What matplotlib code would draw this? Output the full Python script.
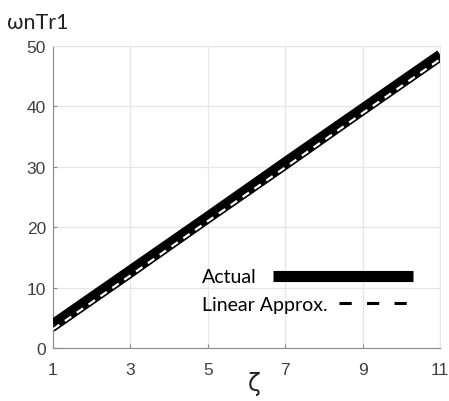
"""Normalized rise time vs damping ratio: actual curve and linear approximation."""

import matplotlib
matplotlib.use("Agg")
import matplotlib.pyplot as plt
from matplotlib.lines import Line2D

zeta = [1, 3, 5, 7, 9, 11]
actual = [4.0, 12.9, 21.8, 30.8, 39.7, 48.6]
linear_approx = [3.1, 12.0, 21.0, 29.9, 38.9, 47.8]

x_ticks = [1, 3, 5, 7, 9, 11]
y_ticks = [0, 10, 20, 30, 40, 50]

fig = plt.figure(figsize=(4.49, 4.02), dpi=100)
ax = fig.add_axes([0.118, 0.132, 0.862, 0.751])

ax.plot(zeta, actual, color="black", lw=7, solid_capstyle="butt", zorder=3)
ax.plot(zeta, linear_approx, color="black", lw=4, solid_capstyle="butt", zorder=4)
ax.plot(zeta, linear_approx, color="white", lw=1.6, dashes=(3.5, 3), zorder=5)

ax.set_xlim(1, 11)
ax.set_ylim(0, 50)
ax.set_xticks(x_ticks)
ax.set_yticks(y_ticks)
ax.grid(True, color="#e6e6e6", lw=0.9)
ax.set_axisbelow(True)
for side in ["top", "right"]:
    ax.spines[side].set_color("#e6e6e6")
for side in ["left", "bottom"]:
    ax.spines[side].set_color("#8a8a8a")
ax.tick_params(direction="in", length=3, color="#8a8a8a", labelsize=12.5,
               labelcolor="#404040")
ax.tick_params(axis="x", pad=10)
ax.tick_params(axis="y", pad=5)
for lbl in ax.get_xticklabels() + ax.get_yticklabels():
    lbl.set_family(["Liberation Sans", "DejaVu Sans"])

fig.text(0.016, 0.968, "ωnTr1", fontsize=15.5, color="#222222", va="top",
         family=["Lato", "DejaVu Sans"])
ax.set_xlabel("ζ", fontsize=17, color="#222222", labelpad=-4,
              family=["DejaVu Sans"])
ax.xaxis.set_label_coords(0.52, -0.075)

# two separate legends so each key can have its own length
leg_actual = ax.legend([Line2D([], [], color="black", lw=8, solid_capstyle="butt")],
                       ["Actual"], loc="center left", bbox_to_anchor=(0.36, 0.235),
                       frameon=False, markerfirst=False, borderpad=0,
                       prop={"family": "Lato", "size": 14},
                       handlelength=7.2, handletextpad=0.85)
ax.add_artist(leg_actual)
ax.legend([Line2D([], [], color="black", lw=2.2, dashes=(4, 5))],
          ["Linear Approx."], loc="center left", bbox_to_anchor=(0.36, 0.145),
          frameon=False, markerfirst=False, borderpad=0,
          prop={"family": "Lato", "size": 14},
          handlelength=3.9, handletextpad=0.6)

fig.savefig("out.png", dpi=100)
